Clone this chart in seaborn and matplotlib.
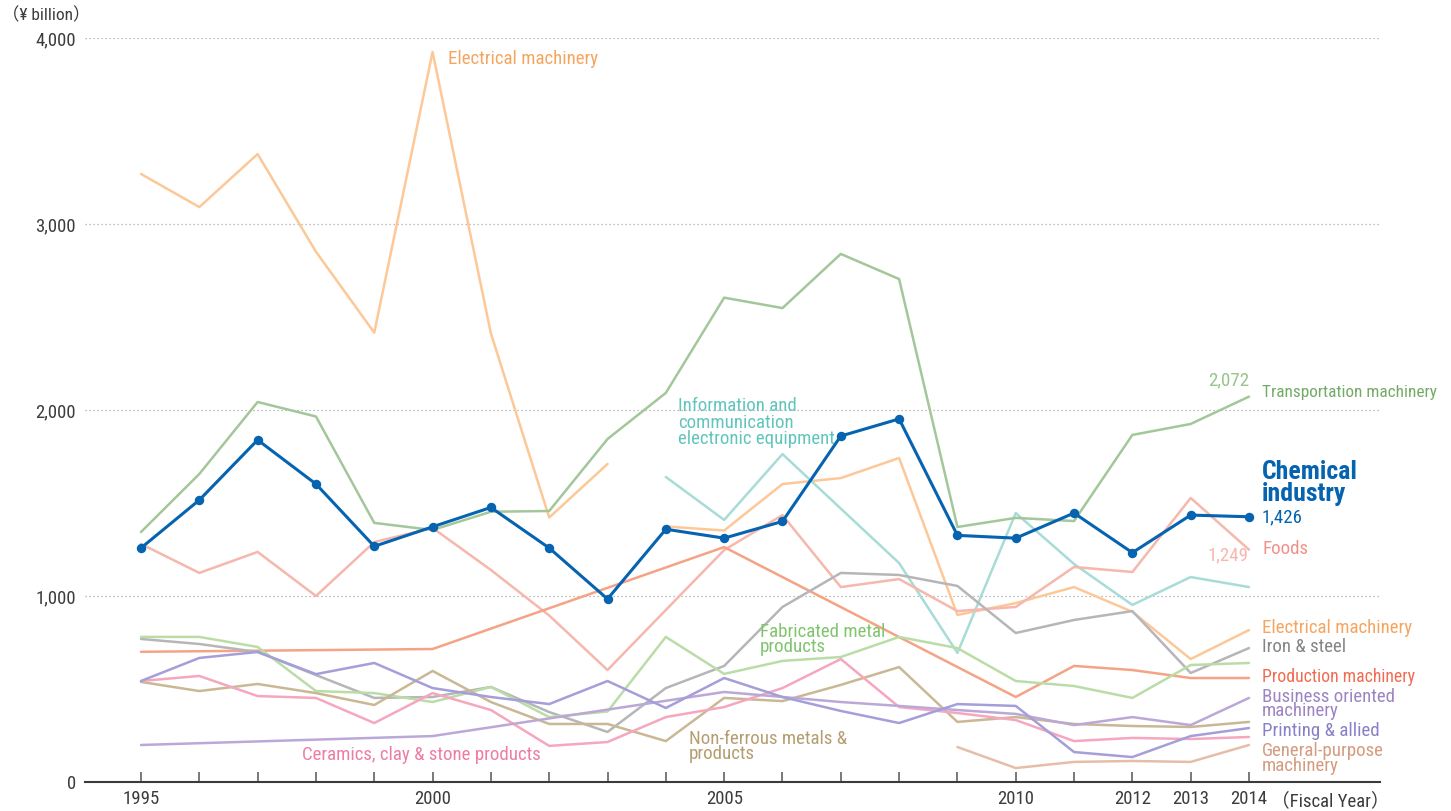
import numpy as np
import pandas as pd
import matplotlib
matplotlib.use("Agg")
import matplotlib.pyplot as plt
import seaborn as sns
from matplotlib import font_manager as fm
from matplotlib.textpath import TextPath
from matplotlib.font_manager import FontProperties

# ---------------- data (¥ billion, fiscal years) ----------------
years = list(range(1995, 2015))
years_0403 = list(range(1995, 2004))
years_04on = list(range(2004, 2015))

chemical = [1258, 1516, 1839, 1602, 1267, 1372, 1476, 1258, 984, 1359, 1311, 1401,
            1860, 1952, 1326, 1311, 1446, 1233, 1435, 1426]
transportation = [1344, 1656, 2043, 1965, 1393, 1355, 1453, 1457, 1844, 2092, 2604, 2548,
                  2839, 2704, 1371, 1420, 1403, 1866, 1925, 2072]
electrical_old = [3269, 3091, 3376, 2851, 2416, 3925, 2412, 1422, 1710]
electrical_new = [1374, 1352, 1602, 1634, 1742, 898, 962, 1048, 915, 661, 817]
info_comm = [1640, 1409, 1763, 1470, 1177, 694, 1446, 1172, 952, 1102, 1048]
foods = [1280, 1124, 1237, 1000, 1290, 1366, 1140, 895, 602, 925, 1247, 1435,
         1048, 1091, 919, 941, 1156, 1129, 1527, 1249]
prod_years = [1995, 2000, 2005, 2010, 2011, 2012, 2013, 2014]
production = [700, 715, 1263, 457, 624, 602, 559, 559]
iron_steel = [769, 742, 699, 575, 452, 457, 511, 376, 269, 505, 624, 941,
              1124, 1113, 1054, 801, 871, 919, 586, 720]
fabricated = [780, 780, 726, 489, 478, 430, 511, 349, 379, 780, 581, 651,
              672, 780, 720, 543, 516, 452, 629, 640]
non_ferrous = [538, 489, 527, 478, 414, 597, 430, 312, 312, 220, 452, 435,
               522, 618, 323, 349, 312, 301, 296, 323]
ceramics = [543, 570, 462, 452, 317, 478, 387, 194, 215, 349, 403, 505,
            661, 403, 371, 333, 220, 237, 231, 242]
bus_years = [1995, 2000, 2005, 2006, 2007, 2008, 2009, 2010, 2011, 2012, 2013, 2014]
business = [199, 247, 484, 457, 430, 409, 387, 366, 306, 349, 306, 452]
printing = [543, 667, 699, 580, 640, 505, 457, 419, 543, 398, 559, 457,
            382, 317, 419, 409, 161, 134, 247, 290]
gp_years = [2009, 2010, 2011, 2012, 2013, 2014]
general_purpose = [188, 75, 108, 113, 108, 199]

y_ticks = [0, 1000, 2000, 3000, 4000]
x_label_years = [1995, 2000, 2005, 2010, 2012, 2013, 2014]

# ---------------- style / font choice ----------------
sns.set_theme(style="white")
names = sorted({f.name for f in fm.fontManager.ttflist})
preferred = ["Roboto Condensed", "Liberation Sans Narrow", "Open Sans Condensed",
             "Noto Sans Condensed", "DejaVu Sans Condensed"]
base = None
for p in preferred:
    if p in names:
        base = p
        break
if base is None:
    cands = [n for n in names if ("Narrow" in n or "Condensed" in n) and "CJK" not in n
             and "Mono" not in n and "Serif" not in n]
    base = cands[0] if cands else ("Roboto" if "Roboto" in names else "DejaVu Sans")
plt.rcParams['font.family'] = [base, 'Noto Sans CJK JP', 'DejaVu Sans']

# keep the widest right-hand label inside the canvas whatever font was found
T_SIZE = 12.4
probe = TextPath((0, 0), "Transportation machinery", size=T_SIZE * 100 / 72,
                 prop=FontProperties(family=base))
probe_w = probe.get_extents().width
k = min(1.0, 178.0 / probe_w) if probe_w > 0 else 1.0
k = max(k, 0.75)
LS = 13.6 * k

W, H = 1451, 811
fig = plt.figure(figsize=(W / 100, H / 100), dpi=100)
ax_left, ax_right, ax_top, ax_bot = 85, 1380, 38, 782
ax = fig.add_axes([ax_left / W, (H - ax_bot) / H, (ax_right - ax_left) / W, (ax_bot - ax_top) / H])

series = [
    ("Electrical machinery a", years_0403, electrical_old, "#fdc898", 1.8),
    ("Electrical machinery b", years_04on, electrical_new, "#fdc898", 1.8),
    ("Information", years_04on, info_comm, "#a7dcd7", 1.8),
    ("Transportation", years, transportation, "#a3c79a", 1.8),
    ("Foods", years, foods, "#f6b7ad", 1.8),
    ("Production", prod_years, production, "#f5a385", 1.8),
    ("Iron", years, iron_steel, "#b6b6b9", 1.8),
    ("Fabricated", years, fabricated, "#badda8", 1.8),
    ("Non-ferrous", years, non_ferrous, "#cab894", 1.8),
    ("Ceramics", years, ceramics, "#f5a7bf", 1.8),
    ("Business", bus_years, business, "#bba8d7", 1.8),
    ("Printing", years, printing, "#a49fd9", 1.8),
    ("General", gp_years, general_purpose, "#e6bea8", 1.8),
]
for name, xs, ys, col, lw in series:
    df = pd.DataFrame({"year": xs, "value": ys})
    sns.lineplot(data=df, x="year", y="value", color=col, lw=lw, ax=ax,
                 estimator=None, sort=False, zorder=2)

dfc = pd.DataFrame({"year": years, "value": chemical})
sns.lineplot(data=dfc, x="year", y="value", color="#0563b0", lw=2.2, ax=ax,
             estimator=None, sort=False, marker="o", markersize=6.8,
             markeredgewidth=0, zorder=5)

# ---------------- axes ----------------
ppy = (1249 - 141) / 19.0
x0 = 1995 - (141 - ax_left) / ppy
x1 = 1995 + (ax_right - 141) / ppy
ax.set_xlim(x0, x1)
ax.set_ylim(0, 4000)
ax.set_xlabel("")
ax.set_ylabel("")

ax.set_yticks(y_ticks)
ax.set_yticklabels([f"{v:,}" for v in y_ticks])
ax.set_xticks(years)
ax.set_xticklabels([str(y) if y in x_label_years else "" for y in years])
ax.tick_params(axis="y", length=0, pad=6.5, labelsize=13.5, labelcolor="#3c3c3c")
ax.tick_params(axis="x", direction="in", length=7, width=1.1, color="#555555",
               pad=6, labelsize=13.5, labelcolor="#3c3c3c", bottom=True)

for s in ["left", "right", "top"]:
    ax.spines[s].set_visible(False)
ax.spines["bottom"].set_color("#3a3a3a")
ax.spines["bottom"].set_linewidth(1.5)
ax.grid(axis="y", color="#a8a8a8", linestyle=(0, (1, 2.2)), linewidth=0.9)
ax.grid(axis="x", visible=False)
ax.set_axisbelow(True)


def px2d(px, py):
    return 1995 + (px - 141) / ppy, (ax_bot - py) / 0.186


def label(px, py, s, color, size=None, ha="left", va="center", weight="normal", ls=0.9):
    x, y = px2d(px, py)
    ax.text(x, y, s, color=color, fontsize=size if size else LS, ha=ha, va=va,
            fontweight=weight, linespacing=ls, clip_on=False, zorder=6)


label(448, 59, "Electrical machinery", "#f5a560")
label(678, 397, "Information and\ncommunication\nelectronic equipment", "#62c5bd", va="top")
label(760, 623, "Fabricated metal\nproducts", "#80c56e", va="top", ls=0.82)
label(689, 730, "Non-ferrous metals &\nproducts", "#b49e70", va="top", ls=0.82)
label(302, 755, "Ceramics, clay & stone products", "#ef7ca2")

label(1249, 380, "2,072", "#95c48b", ha="right")
label(1262, 392, "Transportation machinery", "#72ab66", size=T_SIZE * k)
label(1262, 460, "Chemical\nindustry", "#0563b0", size=18.5 * k, weight="bold", va="top", ls=0.88)
label(1262, 517, "1,426", "#0563b0", size=13.6 * k)
label(1249, 555, "1,249", "#f6b7ad", ha="right")
label(1262, 549, "Foods", "#f1918a")
label(1262, 628, "Electrical machinery", "#f5a560")
label(1262, 647, "Iron & steel", "#858585")
label(1262, 677, "Production machinery", "#f06b52", size=12.8 * k)
label(1262, 688, "Business oriented\nmachinery", "#9d84c3", va="top", ls=0.75)
label(1262, 731, "Printing & allied", "#8680c8")
label(1262, 742, "General-purpose\nmachinery", "#d49c80", va="top", ls=0.8)

label(1330, 801, "（Fiscal Year）", "#3c3c3c", size=13.5, ha="center")
fig.text(2 / W, 1 - 15 / H, "（¥ billion）", color="#3c3c3c", fontsize=12.5, ha="left", va="center")

fig.savefig("out.png", dpi=100, facecolor="white")
